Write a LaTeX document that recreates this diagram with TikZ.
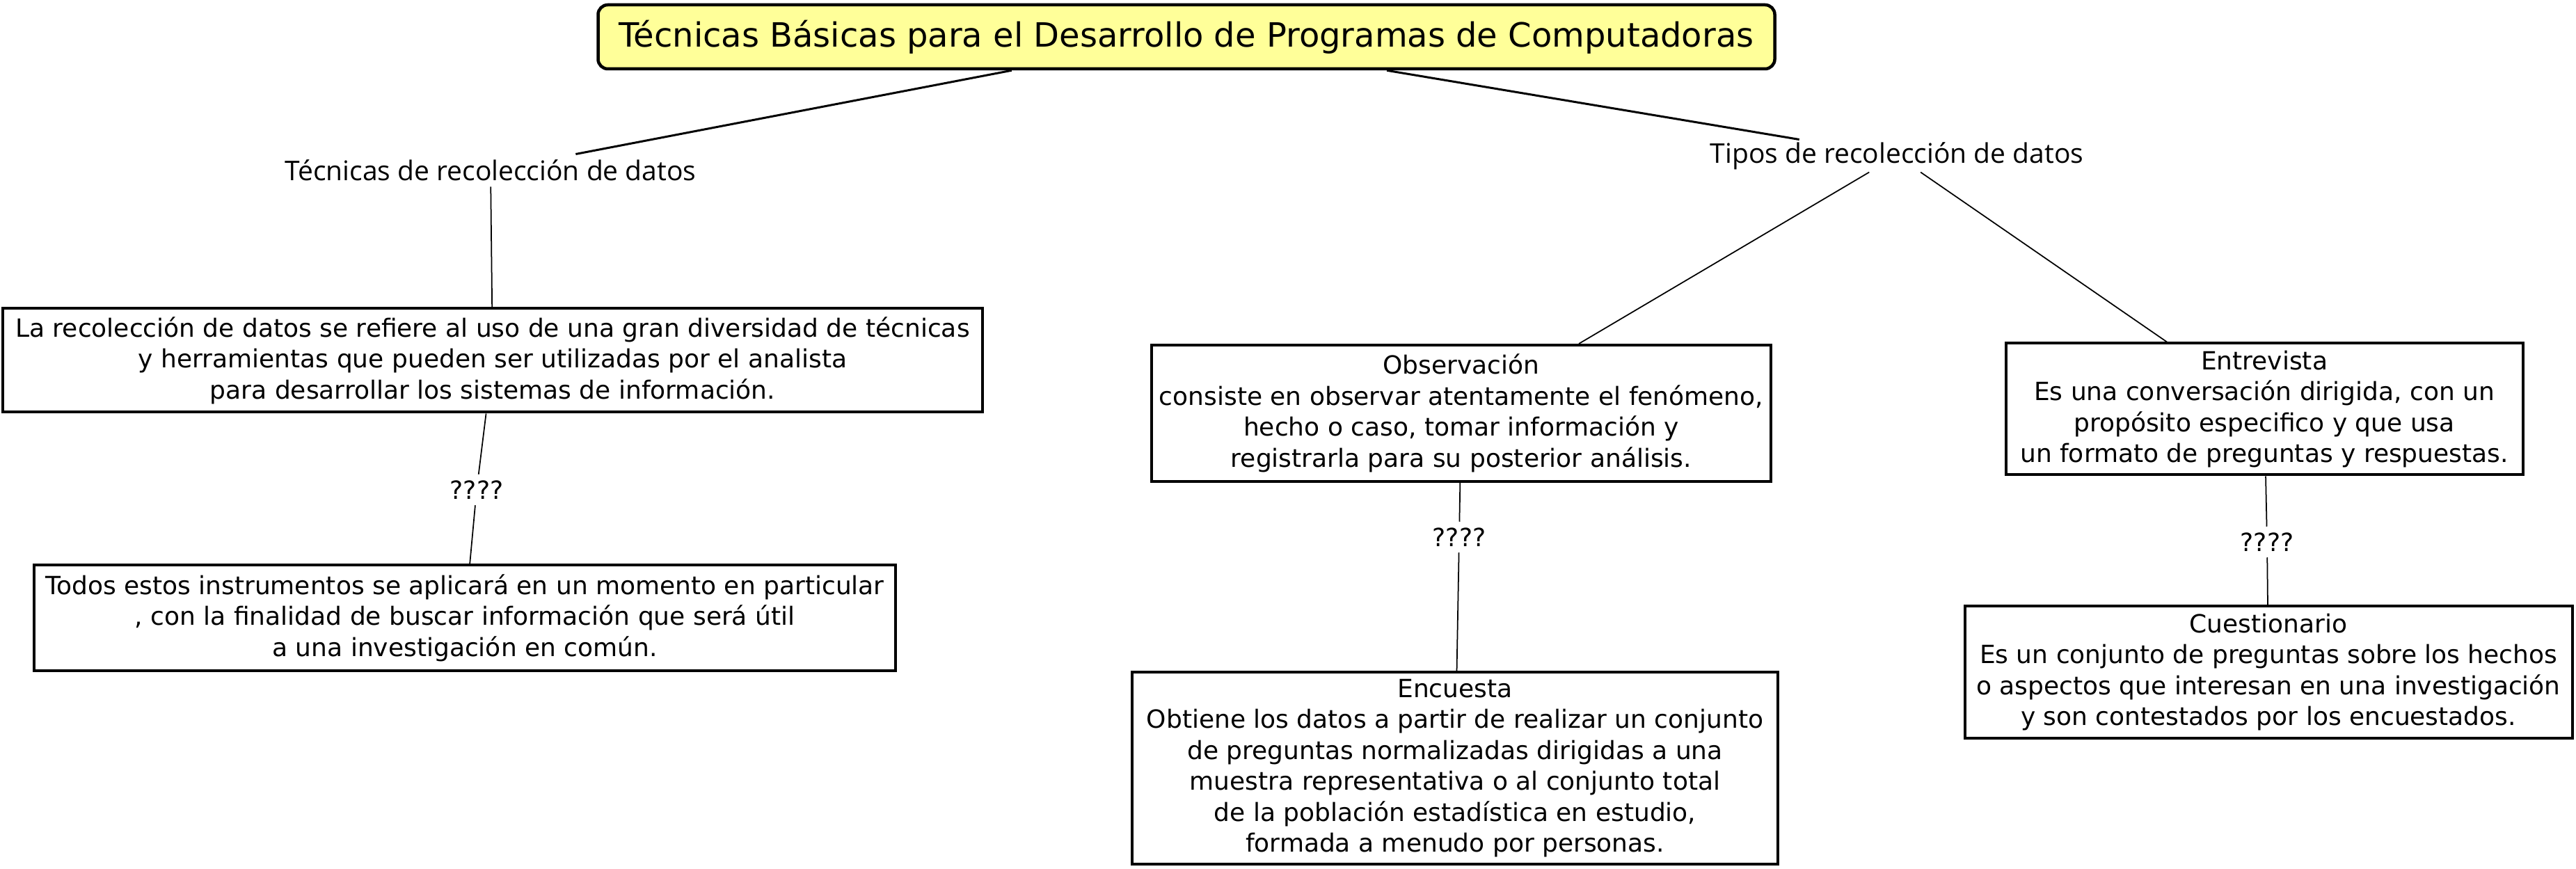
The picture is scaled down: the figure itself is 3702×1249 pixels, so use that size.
\documentclass[tikz,border=0pt]{standalone}
\usepackage{fontspec}
\setmainfont{DejaVu Sans}
\newfontfamily\lblfont{Open Sans}
\definecolor{titlefill}{RGB}{255,255,153}
\begin{document}
\begin{tikzpicture}[x=0.2pt,y=-0.2pt,
  box/.style={draw, line width=0.8pt, inner sep=0pt, align=center, font=\fontsize{7.2}{8.9}\selectfont},
  lbl/.style={inner sep=0pt, minimum height=9pt, font=\lblfont\fontsize{7.8}{9}\selectfont},
  qlbl/.style={inner sep=0pt, minimum height=8.5pt, font=\fontsize{7.2}{8.9}\selectfont},
  conn/.style={line width=0.35pt},
  tconn/.style={line width=0.6pt}]
\useasboundingbox (0,0) rectangle (3702,1249);
\node[draw, line width=0.9pt, rounded corners=2.8pt, fill=titlefill, minimum width=338.2pt, minimum height=18.4pt, inner sep=0pt, font=\fontsize{9.6}{11}\selectfont] (title) at (1705,53) {Técnicas Básicas para el Desarrollo de Programas de Computadoras};
\node[lbl] (l1) at (705,245) {Técnicas de recolección de datos};
\node[lbl] (l2) at (2726,224) {Tipos de recolección de datos};
\node[box, minimum width=281.4pt, minimum height=29.8pt] (b1) at (708,518) {La recolección de datos se refiere al uso de una gran diversidad de técnicas\\y herramientas que pueden ser utilizadas por el analista\\para desarrollar los sistemas de información.};
\node[qlbl] (q1) at (685,704) {????};
\node[box, minimum width=247.4pt, minimum height=30.2pt] (b2) at (668,888) {Todos estos instrumentos se aplicará en un momento en particular\\, con la finalidad de buscar información que será útil\\a una investigación en común.};
\node[box, minimum width=178pt, minimum height=39.2pt] (obs) at (2100,594) {Observación\\consiste en observar atentamente el fenómeno,\\hecho o caso, tomar información y\\registrarla para su posterior análisis.};
\node[qlbl] (q2) at (2097,772) {????};
\node[box, minimum width=185.6pt, minimum height=55.2pt] (enc) at (2091,1104) {Encuesta\\Obtiene los datos a partir de realizar un conjunto\\de preguntas normalizadas dirigidas a una\\muestra representativa o al conjunto total\\de la población estadística en estudio,\\formada a menudo por personas.};
\node[box, minimum width=148.6pt, minimum height=37.8pt] (ent) at (3254,588) {Entrevista\\Es una conversación dirigida, con un\\propósito especifico y que usa\\un formato de preguntas y respuestas.};
\node[qlbl] (q3) at (3258,779) {????};
\node[box, minimum width=174.6pt, minimum height=37.8pt] (cue) at (3260,966) {Cuestionario\\Es un conjunto de preguntas sobre los hechos\\o aspectos que interesan en una investigación\\y son contestados por los encuestados.};
\draw[tconn] (title) -- (l1);
\draw[tconn] (title) -- (l2);
\draw[conn] (l1) -- (b1);
\draw[conn] (b1) -- (q1);
\draw[conn] (q1) -- (b2);
\draw[conn] (l2) -- (obs);
\draw[conn] (obs) -- (q2);
\draw[conn] (q2) -- (enc);
\draw[conn] (l2) -- (ent);
\draw[conn] (ent) -- (q3);
\draw[conn] (q3) -- (cue);
\end{tikzpicture}
\end{document}
